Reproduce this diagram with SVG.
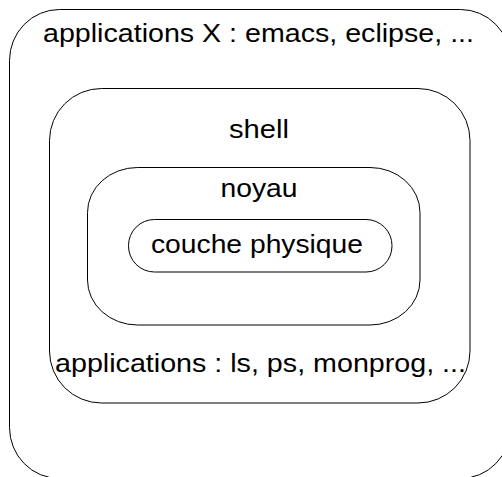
<svg xmlns="http://www.w3.org/2000/svg" width="502" height="477" viewBox="0 0 502 477">
  <style>
    .layer { fill: none; stroke: #000; stroke-width: 1; }
    .label { font-family: "Liberation Sans", Arial, Helvetica, sans-serif; font-size: 25px; fill: #000; }
  </style>
  <rect width="502" height="477" fill="#fff"/>
  <g id="connectors"/>
  <!-- outermost layer: X applications -->
  <g id="applications-x">
    <rect class="layer" x="9.5" y="9.5" width="501" height="469" rx="50" ry="51"/>
    <text class="label" x="43" y="42" textLength="431" lengthAdjust="spacingAndGlyphs">applications X : emacs, eclipse, ...</text>
  </g>
  <!-- shell layer, with command-line applications -->
  <g id="shell">
    <rect class="layer" x="49.5" y="88.5" width="420.5" height="314.5" rx="52" ry="52"/>
    <text class="label" x="229" y="138" textLength="60" lengthAdjust="spacingAndGlyphs">shell</text>
    <text class="label" x="55" y="372" textLength="411" lengthAdjust="spacingAndGlyphs">applications : ls, ps, monprog, ...</text>
  </g>
  <!-- kernel -->
  <g id="noyau">
    <rect class="layer" x="87.5" y="167.5" width="332.5" height="157.5" rx="50" ry="45"/>
    <text class="label" x="220.5" y="197" textLength="77" lengthAdjust="spacingAndGlyphs">noyau</text>
  </g>
  <!-- hardware layer -->
  <g id="couche-physique">
    <rect class="layer" x="128.5" y="219.5" width="263.5" height="52.5" rx="26" ry="26"/>
    <text class="label" x="151" y="253" textLength="212" lengthAdjust="spacingAndGlyphs">couche physique</text>
  </g>
</svg>
